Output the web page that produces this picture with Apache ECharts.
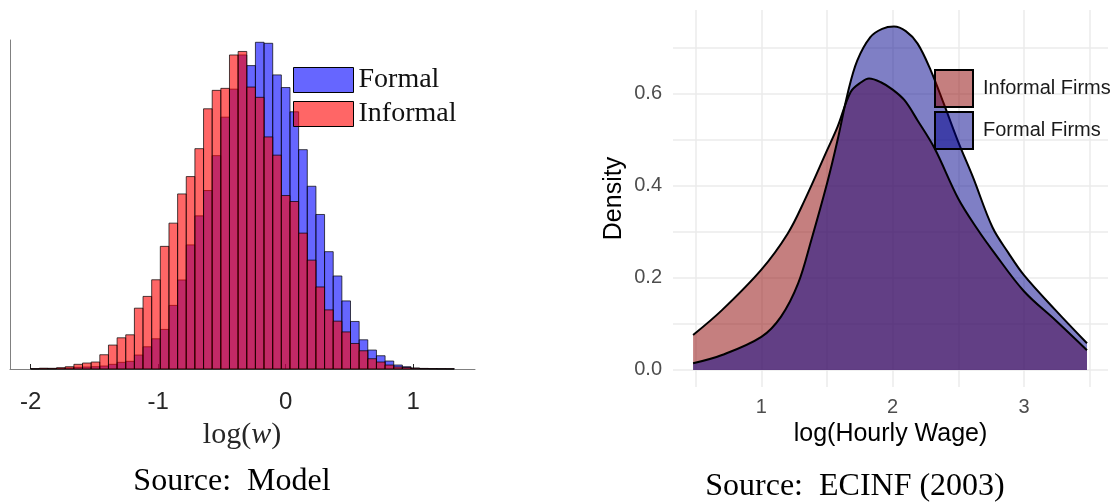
<!DOCTYPE html>
<html>
<head>
<meta charset="utf-8">
<title>Wage distributions: model vs ECINF</title>
<script src="https://cdn.jsdelivr.net/npm/echarts@6.0.0/dist/echarts.min.js"></script>
<style>
  html, body { margin: 0; padding: 0; background: #fff; }
  #chart { width: 1113px; height: 502px; }
</style>
</head>
<body>
<div id="chart"></div>
<script>
// ---- left panel: model histogram of log(w), equal bins ----
var binStart = -2.0;
var binWidth = 0.0678;
var formalCounts = [0.2, 0.3, 0.3, 0.7, 1, 1.7, 2, 2.3, 3, 4.7, 6.7, 7.7, 14, 22.3, 30.3, 39.7,
  63.8, 89.3, 124.5, 153.6, 179, 214, 252.6, 280.7, 315, 304.3, 327.7, 326.7, 295, 282.3, 258,
  220, 183.3, 155, 117.7, 93.3, 68.3, 47.7, 29.3, 19, 13.3, 8, 4, 2.3, 1, 0.6, 0.4, 0.3, 0.2];
var informalCounts = [0.3, 0.8, 0.7, 1.3, 2.3, 4.7, 6, 7, 14.3, 24, 31.3, 34.3, 61, 72.8, 89.5, 123,
  146.3, 175.6, 193, 221, 261, 279.5, 281.5, 315, 318.5, 282.8, 272.5, 232.8, 214.5, 174, 168,
  136.3, 109.2, 82.3, 59.3, 48, 37.2, 25.6, 18.3, 10.3, 7, 4, 2.1, 1.5, 0.7, 0.4, 0.3, 0.2, 0.2];
var histTicks = [-2, -1, 0, 1];

// ---- right panel: densities of log(hourly wage), ECINF 2003 ----
var informalWage = [0.48, 0.7, 1.0, 1.2, 1.33, 1.5, 1.58, 1.68, 1.76, 1.82, 1.91, 2.0, 2.09, 2.19,
  2.32, 2.5, 2.65, 2.76, 3.0, 3.24, 3.48];
var informalDensity = [0.076, 0.13, 0.218, 0.296, 0.369, 0.477, 0.528, 0.604, 0.625, 0.633, 0.625,
  0.609, 0.586, 0.542, 0.481, 0.372, 0.304, 0.26, 0.171, 0.108, 0.043];
var formalWage = [0.48, 0.7, 1.0, 1.15, 1.28, 1.38, 1.5, 1.58, 1.66, 1.73, 1.83, 1.92, 2.01, 2.1,
  2.19, 2.29, 2.39, 2.5, 2.61, 2.76, 2.88, 3.0, 3.24, 3.48];
var formalDensity = [0.0145, 0.0325, 0.072, 0.116, 0.188, 0.282, 0.405, 0.499, 0.604, 0.672, 0.723,
  0.741, 0.746, 0.736, 0.709, 0.651, 0.578, 0.495, 0.42, 0.31, 0.255, 0.206, 0.13, 0.058];
var densityTicks = [0, 0.2, 0.4, 0.6];
var densityGrid = [0, 0.1, 0.2, 0.3, 0.4, 0.5, 0.6, 0.7];
var wageTicks = [1, 2, 3];
var wageGrid = [0.5, 1, 1.5, 2, 2.5, 3, 3.5];

function toBins(counts) {
  return counts.map(function (c, i) {
    return [binStart + i * binWidth, binStart + (i + 1) * binWidth, c];
  });
}
function toPairs(xs, ys) {
  return xs.map(function (x, i) { return [x, ys[i]]; });
}

// one rectangle per bin, corners from the axis scales
function drawBin(params, api) {
  var p0 = api.coord([api.value(0), 0]);
  var p1 = api.coord([api.value(1), api.value(2)]);
  return {
    type: 'rect',
    shape: { x: p0[0], y: p1[1], width: p1[0] - p0[0], height: p0[1] - p1[1] },
    style: { fill: api.visual('color'), stroke: 'rgba(0,0,0,0.7)', lineWidth: 1 }
  };
}

var chart = echarts.init(document.getElementById('chart'));

var option = {
  animation: false,
  backgroundColor: '#fff',
  textStyle: { fontFamily: 'Liberation Sans' },
  grid: [
    { left: 10, top: 40, width: 465, height: 329 },
    { left: 673, top: 10, width: 435, height: 377 }
  ],
  xAxis: [
    {
      gridIndex: 0, type: 'value', min: -2.162, max: 1.485,
      axisLine: { onZero: false, lineStyle: { color: '#808080', width: 1 } },
      axisTick: { inside: true, length: 5, customValues: histTicks, lineStyle: { color: '#262626' } },
      axisLabel: { customValues: histTicks, margin: 21, fontSize: 24, color: '#262626' },
      splitLine: { show: false }
    },
    {
      gridIndex: 1, type: 'value', min: 0.327, max: 3.64,
      axisLine: { show: false },
      axisTick: { show: false, customValues: wageGrid },
      axisLabel: { customValues: wageTicks, margin: 10, fontSize: 20, color: '#4d4d4d' },
      splitLine: { show: true, lineStyle: { color: '#ebebeb', width: 1.5 } },
      name: 'log(Hourly Wage)', nameLocation: 'middle', nameGap: 35,
      nameTextStyle: { fontSize: 25, color: '#000' }
    }
  ],
  yAxis: [
    {
      gridIndex: 0, type: 'value', min: 0, max: 330,
      axisLine: { show: true, onZero: false, lineStyle: { color: '#808080', width: 1 } },
      axisTick: { show: false }, axisLabel: { show: false }, splitLine: { show: false }
    },
    {
      gridIndex: 1, type: 'value', min: -0.037, max: 0.782,
      axisLine: { show: false },
      axisTick: { show: false, customValues: densityGrid },
      axisLabel: {
        customValues: densityTicks, margin: 11, fontSize: 20, color: '#4d4d4d',
        formatter: function (v) { return Number(v).toFixed(1); }
      },
      splitLine: { show: true, lineStyle: { color: '#ebebeb', width: 1.5 } },
      name: 'Density', nameLocation: 'middle', nameGap: 46, nameRotate: 90,
      nameTextStyle: { fontSize: 25, color: '#000' }
    }
  ],
  legend: [
    {
      data: ['Formal', 'Informal'], orient: 'vertical', left: 288, top: 61,
      icon: 'rect', itemWidth: 60, itemHeight: 25, itemGap: 6, selectedMode: false,
      itemStyle: { borderColor: '#000', borderWidth: 1 },
      textStyle: { fontFamily: 'Liberation Serif', fontSize: 28, lineHeight: 28, color: '#111' }
    },
    {
      data: ['Informal Firms', 'Formal Firms'], orient: 'vertical', left: 929, top: 64,
      icon: 'rect', itemWidth: 38, itemHeight: 37, itemGap: 3, selectedMode: false,
      itemStyle: { borderColor: '#000', borderWidth: 2 },
      textStyle: { fontSize: 20, color: '#1a1a1a', padding: [0, 0, 0, 5] }
    }
  ],
  series: [
    {
      name: 'Formal', type: 'custom', xAxisIndex: 0, yAxisIndex: 0,
      itemStyle: { color: 'rgba(0,0,255,0.6)' },
      encode: { x: [0, 1], y: 2 },
      data: toBins(formalCounts), renderItem: drawBin
    },
    {
      name: 'Informal', type: 'custom', xAxisIndex: 0, yAxisIndex: 0,
      itemStyle: { color: 'rgba(255,0,0,0.6)' },
      encode: { x: [0, 1], y: 2 },
      data: toBins(informalCounts), renderItem: drawBin
    },
    {
      name: 'Informal Firms', type: 'line', xAxisIndex: 1, yAxisIndex: 1,
      smooth: 0.35, showSymbol: false,
      itemStyle: { color: 'rgba(139,0,0,0.5)' },
      lineStyle: { color: '#000', width: 2 },
      areaStyle: { color: 'rgba(139,0,0,0.5)', opacity: 1 },
      data: toPairs(informalWage, informalDensity)
    },
    {
      name: 'Formal Firms', type: 'line', xAxisIndex: 1, yAxisIndex: 1,
      smooth: 0.35, showSymbol: false,
      itemStyle: { color: 'rgba(0,0,139,0.5)' },
      lineStyle: { color: '#000', width: 2 },
      areaStyle: { color: 'rgba(0,0,139,0.5)', opacity: 1 },
      data: toPairs(formalWage, formalDensity)
    }
  ],
  graphic: [
    {
      type: 'text', x: 242, y: 435,
      style: {
        text: 'log({i|w})', fill: '#262626', align: 'center', verticalAlign: 'middle',
        font: '30px "Liberation Serif"',
        rich: { i: { fontStyle: 'italic', fontFamily: 'Liberation Serif', fontSize: 30, fill: '#262626' } }
      }
    },
    {
      type: 'text', x: 232, y: 482,
      style: { text: 'Source:\u00a0 Model', fill: '#000', align: 'center', verticalAlign: 'middle',
        font: '32px "Liberation Serif"' }
    },
    {
      type: 'text', x: 855, y: 487,
      style: { text: 'Source:\u00a0 ECINF (2003)', fill: '#000', align: 'center', verticalAlign: 'middle',
        font: '32px "Liberation Serif"' }
    }
  ]
};

chart.setOption(option);
</script>
</body>
</html>
